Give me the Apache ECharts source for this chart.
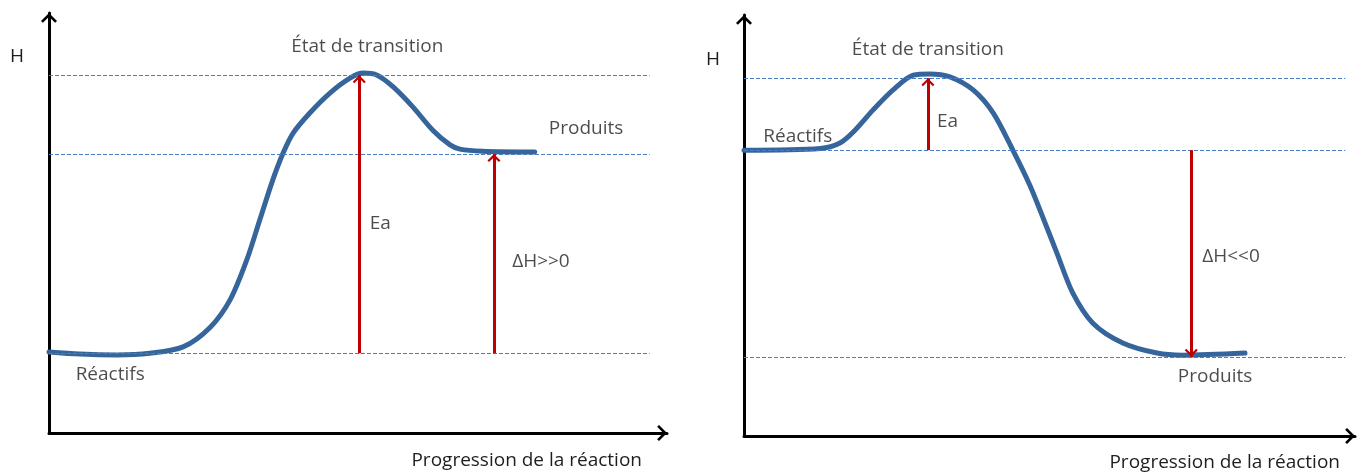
<!DOCTYPE html>
<html>
<head>
<meta charset="utf-8">
<script src="https://cdn.jsdelivr.net/npm/echarts@6/dist/echarts.min.js"></script>
<style>html,body{margin:0;padding:0;background:#fff;}#c{width:1357px;height:474px;}</style>
</head>
<body>
<div id="c"></div>
<script>
// ---- data (progress 0-100, enthalpy 0-100) ----
const leftProgress = [0,5,11,16.3,21.7,26.1,29.3,32.0,34.1,36.2,37.9,39.5,42.2,45.5,48.7,50.8,53.1,55.7,58.9,62.1,64.9,66.5,70.2,78.6];
const leftEnthalpy = [19.3,18.8,18.6,19.0,20.5,25.2,31.7,41.2,50.7,60.2,66.7,71.4,76.2,81.0,84.5,85.7,85.2,82.4,77.6,72.1,68.6,67.6,67.1,66.9];
const rightProgress = [0,12.5,15.7,18.0,21.1,24.4,27.7,30.4,33.7,37.5,40.8,44.0,46.8,48.9,51.2,53.8,57.1,62.0,67.6,71.8,82.0];
const rightEnthalpy = [67.9,68.3,69.6,72.4,77.4,82.2,85.7,86.0,85.3,82.2,76.7,67.9,59.5,52.0,43.5,34.0,26.8,22.1,19.7,19.2,19.7];
// levels: [réactifs, produits, état de transition]
const leftLevels = [19.0, 66.4, 85.2];
const rightLevels = [67.9, 18.8, 85.0];
const leftDashSpan = [0, 97.2];
const rightDashSpan = [0, 98.4];
// arrows: Ea at x, ΔH at x
const leftArrowX = [50.2, 72.0];
const rightArrowX = [30.1, 73.2];
// annotation labels: [text, progress, enthalpy]
const leftLabels = [['État de transition', 51.5, 91.9], ['Produits', 86.9, 72.4], ['Réactifs', 9.9, 13.8], ['Ea', 53.6, 49.8], ['ΔH>>0', 79.6, 40.7]];
const rightLabels = [['État de transition', 30.1, 91.9], ['Réactifs', 8.8, 71.0], ['Ea', 33.3, 74.6], ['ΔH<<0', 79.7, 42.5], ['Produits', 77.1, 14.0]];
const axisTitles = ['H', 'Progression de la réaction'];

const FONT = '"Open Sans"';
const FS = 19;
const TXT = '#1e1e1e';
const chevron = 'path://M6,0.6 L6.01,0.6 L6,0.61 Z M6,8 L12,14 L10.6,15.4 L6,10.8 L1.4,15.4 L0,14 Z';

function zip(a, b) { return a.map((v, i) => [v, b[i]]); }

function panel(idx, progress, enthalpy, levels, span, arrowX, labels, yNameGap, yNamePad, xNameGap, xNamePad) {
  const xAxis = {
    gridIndex: idx, type: 'value', min: 0, max: 100,
    axisLine: { show: true, symbol: ['none', chevron], symbolSize: [16, 20], lineStyle: { color: '#000', width: 3 } },
    axisTick: { show: false }, axisLabel: { show: false }, splitLine: { show: false },
    name: axisTitles[1], nameLocation: 'end', nameGap: xNameGap,
    nameTextStyle: { fontFamily: FONT, fontSize: FS, color: TXT, align: 'right', verticalAlign: 'top', padding: [xNamePad, 0, 0, 0] }
  };
  const yAxis = {
    gridIndex: idx, type: 'value', min: 0, max: 100,
    axisLine: { show: true, symbol: ['none', chevron], symbolSize: [16, 20], lineStyle: { color: '#000', width: 3 } },
    axisTick: { show: false }, axisLabel: { show: false }, splitLine: { show: false },
    name: axisTitles[0], nameLocation: 'end', nameGap: yNameGap,
    nameTextStyle: { fontFamily: FONT, fontSize: FS, color: TXT, align: 'right', verticalAlign: 'middle', padding: [0, yNamePad, 0, 0] }
  };
  const series = [
    {
      type: 'line', xAxisIndex: idx, yAxisIndex: idx, data: [], z: 1, silent: true,
      markLine: {
        silent: true, symbol: 'none', label: { show: false }, animation: false,
        lineStyle: { type: [4, 2], color: '#4a7dc4', width: 1.2 },
        data: levels.map(l => [{ coord: [span[0], l] }, { coord: [span[1], l] }])
      }
    },
    {
      type: 'line', xAxisIndex: idx, yAxisIndex: idx, z: 3, silent: true,
      data: zip(progress, enthalpy), smooth: 0.3, showSymbol: false, symbol: 'none',
      lineStyle: { color: '#36659b', width: 5, cap: 'round', join: 'round' }
    },
    {
      type: 'line', xAxisIndex: idx, yAxisIndex: idx, data: [], z: 4, silent: true,
      markLine: {
        silent: true, symbol: ['none', chevron], symbolSize: [13, 16], label: { show: false }, animation: false,
        lineStyle: { type: 'solid', color: '#c00000', width: 3 },
        data: [[{ coord: [arrowX[0], levels[0]] }, { coord: [arrowX[0], levels[2]] }],
               [{ coord: [arrowX[1], levels[0]] }, { coord: [arrowX[1], levels[1]] }]]
      }
    },
    {
      type: 'scatter', xAxisIndex: idx, yAxisIndex: idx, z: 5, silent: true, clip: false,
      symbol: 'circle', symbolSize: 1, itemStyle: { color: 'rgba(0,0,0,0)' },
      data: labels.map(l => ({ name: l[0], value: [l[1], l[2]] })),
      label: { show: true, position: 'inside', formatter: '{b}', fontFamily: FONT, fontSize: FS, color: TXT }
    }
  ];
  return { xAxis, yAxis, series };
}

const p1 = panel(0, leftProgress, leftEnthalpy, leftLevels, leftDashSpan, leftArrowX, leftLabels, -44, 25, -25, 18);
const p2 = panel(1, rightProgress, rightEnthalpy, rightLevels, rightDashSpan, rightArrowX, rightLabels, -45, 24, -15, 17);

const chart = echarts.init(document.getElementById('c'), null, { renderer: 'canvas' });
chart.setOption({
  animation: false,
  backgroundColor: '#fff',
  grid: [
    { left: 49, top: 13, width: 618, height: 420 },
    { left: 744, top: 15, width: 611, height: 421 }
  ],
  xAxis: [p1.xAxis, p2.xAxis],
  yAxis: [p1.yAxis, p2.yAxis],
  series: [...p1.series, ...p2.series]
});
</script>
</body>
</html>
